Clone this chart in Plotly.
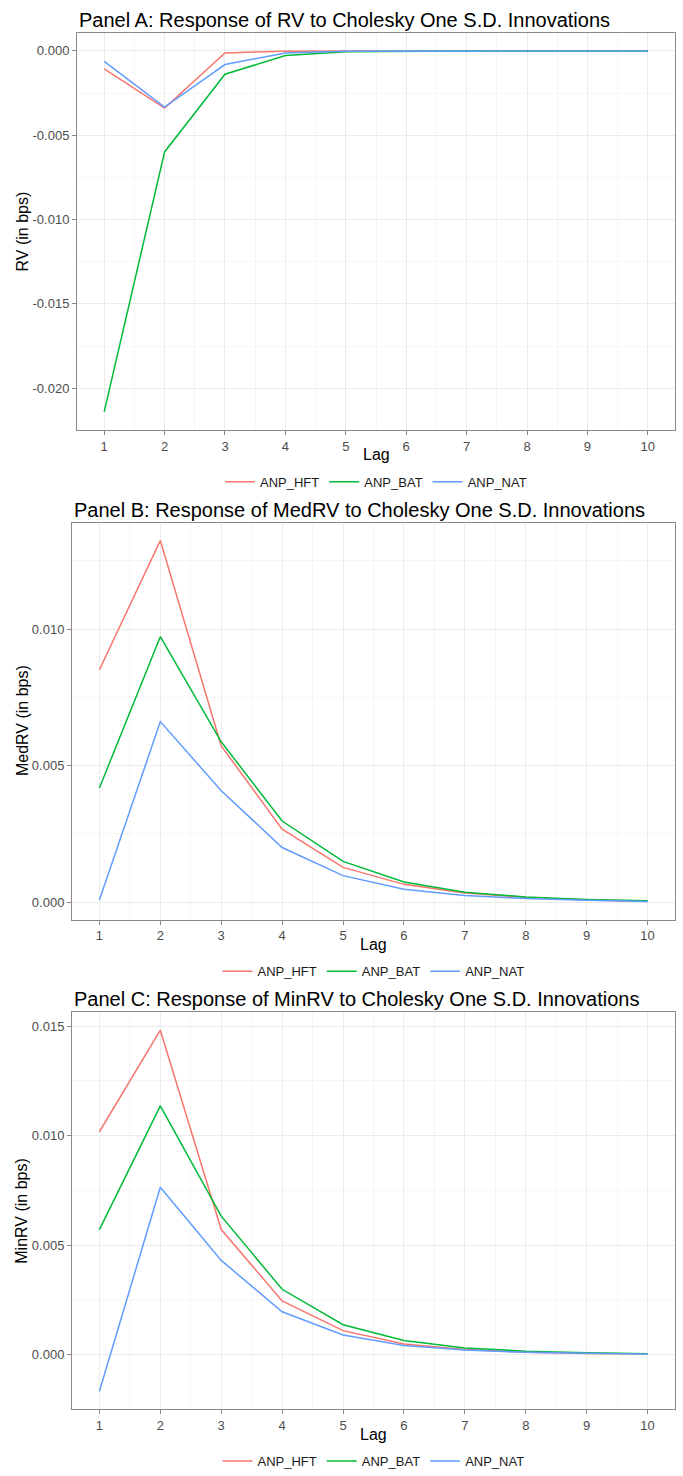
import plotly.graph_objects as go

# ---------------- data ----------------
lags = [1, 2, 3, 4, 5, 6, 7, 8, 9, 10]
series_names = ["ANP_HFT", "ANP_BAT", "ANP_NAT"]
series_colors = ["#F8766D", "#00BA38", "#619CFF"]

rv_hft = [-0.00106, -0.00339, -0.00012, -0.00002, 0.0, 0.0, 0.0, 0.0, 0.0, 0.0]
rv_bat = [-0.0214, -0.00599, -0.00138, -0.00028, -0.00005, -0.00001, 0.0, 0.0, 0.0, 0.0]
rv_nat = [-0.00062, -0.00333, -0.00081, -0.00012, -0.00002, 0.0, 0.0, 0.0, 0.0, 0.0]

medrv_hft = [0.00851, 0.01324, 0.00572, 0.00267, 0.00127, 0.00065, 0.00033, 0.00017, 0.00008, 0.00003]
medrv_bat = [0.00418, 0.00972, 0.00587, 0.00297, 0.00149, 0.00074, 0.00036, 0.00019, 0.00010, 0.00005]
medrv_nat = [0.00008, 0.00661, 0.00408, 0.00200, 0.00097, 0.00047, 0.00024, 0.00013, 0.00007, 0.00002]

minrv_hft = [0.01018, 0.01482, 0.00571, 0.00245, 0.00109, 0.00048, 0.00023, 0.00010, 0.00005, 0.00002]
minrv_bat = [0.00571, 0.01136, 0.00632, 0.00298, 0.00136, 0.00064, 0.00030, 0.00015, 0.00008, 0.00003]
minrv_nat = [-0.00168, 0.00764, 0.00430, 0.00195, 0.00089, 0.00041, 0.00020, 0.00010, 0.00006, 0.00002]

panel_titles = [
    "Panel A: Response of RV to Cholesky One S.D. Innovations",
    "Panel B: Response of MedRV to Cholesky One S.D. Innovations",
    "Panel C: Response of MinRV to Cholesky One S.D. Innovations",
]
y_titles = ["RV (in bps)", "MedRV (in bps)", "MinRV (in bps)"]
x_title = "Lag"

y_tickvals_a = [0.0, -0.005, -0.010, -0.015, -0.020]
y_ticktext_a = ["0.000", "-0.005", "-0.010", "-0.015", "-0.020"]
y_tickvals_b = [0.0, 0.005, 0.010]
y_ticktext_b = ["0.000", "0.005", "0.010"]
y_tickvals_c = [0.0, 0.005, 0.010, 0.015]
y_ticktext_c = ["0.000", "0.005", "0.010", "0.015"]

panels_data = [
    [rv_hft, rv_bat, rv_nat],
    [medrv_hft, medrv_bat, medrv_nat],
    [minrv_hft, minrv_bat, minrv_nat],
]
panels_ticks = [
    (y_tickvals_a, y_ticktext_a),
    (y_tickvals_b, y_ticktext_b),
    (y_tickvals_c, y_ticktext_c),
]

# ---------------- layout geometry (pixels) ----------------
W, H = 683, 1476
PANEL_H = 492
BOX_TOP, BOX_BOT = 33, 432
BOX_LEFT = [77, 72, 72]
BOX_RIGHT = 675
FONT = "Liberation Sans, Arial, sans-serif"
TEXT_GREY = "#4d4d4d"
BORDER = "#8a8a8a"
GRID = "#ebebeb"
GRID_MINOR = "#f5f5f5"

fig = go.Figure()
annotations = []
layout_axes = {}

for p in range(3):
    off = p * PANEL_H
    sfx = "" if p == 0 else str(p + 1)
    xa, ya = "x" + sfx, "y" + sfx
    legend_name = "legend" + sfx
    for name, color, vals in zip(series_names, series_colors, panels_data[p]):
        fig.add_trace(go.Scatter(
            x=lags, y=vals, mode="lines", name=name,
            line=dict(color=color, width=1.5),
            xaxis=xa, yaxis=ya, legend=legend_name, showlegend=True,
        ))
    # y range with ggplot-like 5% expansion
    allv = [v for s in panels_data[p] for v in s]
    lo, hi = min(allv), max(allv)
    ex = (hi - lo) * 0.05
    tv, tt = panels_ticks[p]
    xdom = [BOX_LEFT[p] / W, BOX_RIGHT / W]
    ydom = [1 - (off + BOX_BOT) / H, 1 - (off + BOX_TOP) / H]
    layout_axes["xaxis" + sfx] = dict(
        domain=xdom, anchor=ya, range=[0.55, 10.45],
        tickvals=lags, ticktext=[str(v) for v in lags],
        showgrid=True, gridcolor=GRID, gridwidth=1,
        minor=dict(tick0=0.5, dtick=1, showgrid=True, gridcolor=GRID_MINOR, gridwidth=0.7, ticks=""),
        showline=True, mirror=True, linecolor=BORDER, linewidth=1,
        ticks="outside", ticklen=4, tickcolor=BORDER, tickwidth=1,
        tickfont=dict(family=FONT, size=13, color=TEXT_GREY),
        zeroline=False, fixedrange=True,
    )
    layout_axes["yaxis" + sfx] = dict(
        domain=ydom, anchor=xa, range=[lo - ex, hi + ex],
        tickvals=tv, ticktext=tt,
        showgrid=True, gridcolor=GRID, gridwidth=1,
        minor=dict(tick0=0.0025, dtick=0.005, showgrid=True, gridcolor=GRID_MINOR, gridwidth=0.7, ticks=""),
        showline=True, mirror=True, linecolor=BORDER, linewidth=1,
        ticks="outside", ticklen=4, tickcolor=BORDER, tickwidth=1,
        tickfont=dict(family=FONT, size=13, color=TEXT_GREY),
        zeroline=False, fixedrange=True,
    )
    layout_axes[legend_name] = dict(
        orientation="h", x=(BOX_LEFT[p] + BOX_RIGHT) / 2 / W, xanchor="center",
        y=1 - (off + 484) / H, yanchor="middle",
        font=dict(family=FONT, size=13, color="#1a1a1a"),
        bgcolor="rgba(0,0,0,0)", itemwidth=30, traceorder="normal",
    )
    # panel title
    annotations.append(dict(
        text=panel_titles[p], xref="paper", yref="paper",
        x=BOX_LEFT[p] / W, y=1 - (off + 20) / H, xanchor="left", yanchor="middle",
        showarrow=False, font=dict(family=FONT, size=20, color="#000000"),
    ))
    # x axis title
    annotations.append(dict(
        text=x_title, xref="paper", yref="paper",
        x=(BOX_LEFT[p] + BOX_RIGHT) / 2 / W, y=1 - (off + 457) / H,
        xanchor="center", yanchor="middle", showarrow=False,
        font=dict(family=FONT, size=16, color="#000000"),
    ))
    # y axis title
    annotations.append(dict(
        text=y_titles[p], xref="paper", yref="paper",
        x=22 / W, y=1 - (off + (BOX_TOP + BOX_BOT) / 2) / H,
        xanchor="center", yanchor="middle", textangle=-90, showarrow=False,
        font=dict(family=FONT, size=16, color="#000000"),
    ))

fig.update_layout(
    width=W, height=H, margin=dict(l=0, r=0, t=0, b=0),
    paper_bgcolor="white", plot_bgcolor="white",
    annotations=annotations, **layout_axes,
)

fig.write_html("out.html")
